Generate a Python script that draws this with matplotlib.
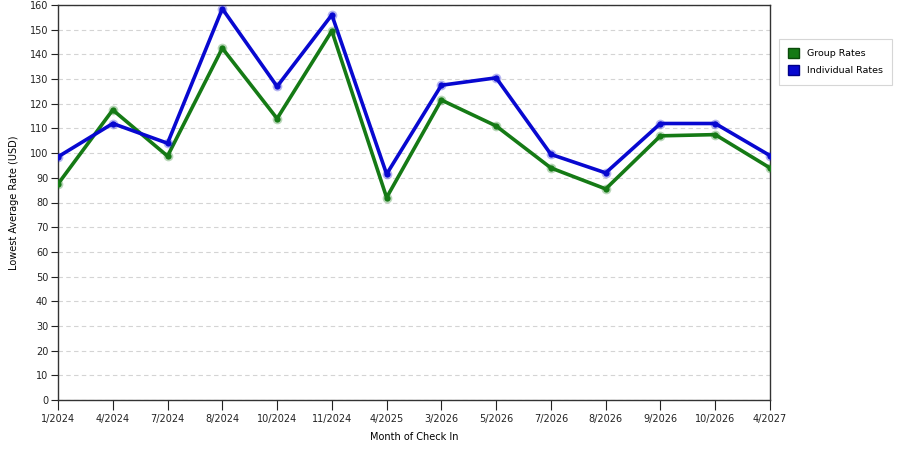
import numpy as np
import matplotlib
matplotlib.use('Agg')
import matplotlib.pyplot as plt
from matplotlib.patches import Patch

months = ['1/2024', '4/2024', '7/2024', '8/2024', '10/2024', '11/2024', '4/2025',
          '3/2026', '5/2026', '7/2026', '8/2026', '9/2026', '10/2026', '4/2027']
group_rates = [87.5, 117.5, 98.8, 142.5, 114, 149.5, 82, 121.5, 111, 94, 85.5, 107, 107.5, 94]
indiv_rates = [98.5, 112, 104, 158.5, 127, 156, 91.5, 127.5, 130.5, 99.5, 92, 112, 112, 99]

green = '#157a15'
blue = '#0808d0'

plt.rcParams['font.family'] = 'DejaVu Sans'
fig = plt.figure(figsize=(9, 4.5), dpi=100)
ax = fig.add_axes([58/900, 50/450, 712/900, 395/450])

x = np.arange(len(months))
for vals, col in ((group_rates, green), (indiv_rates, blue)):
    ax.plot(x, vals, color=col, lw=2.6, zorder=3, solid_capstyle='round')
    ax.plot(x, vals, 'o', ms=7, color=col, alpha=0.3, zorder=4, mec='none')
    ax.plot(x, vals, 'o', ms=4.5, color=col, zorder=5, mec='none')

ax.set_xlim(0, len(months) - 1)
ax.set_ylim(0, 160)
ax.set_yticks(range(0, 161, 10))
ax.set_xticks(x)
ax.set_xticklabels(months)
ax.tick_params(axis='both', labelsize=7, colors='#222222', direction='out')
ax.tick_params(axis='x', length=7, pad=3)
ax.tick_params(axis='y', length=5, pad=2)
ax.yaxis.grid(True, ls=(0, (4, 3)), color='#d4d4d4', lw=0.8)
ax.set_axisbelow(True)
for s in ax.spines.values():
    s.set_color('#333333')
    s.set_linewidth(1)

ax.set_xlabel('Month of Check In', fontsize=7, labelpad=6)
ax.set_ylabel('Lowest Average Rate (USD)', fontsize=7, labelpad=8)

handles = [Patch(facecolor=green, edgecolor='#0a4a0a', label='Group Rates'),
           Patch(facecolor=blue, edgecolor='#000088', label='Individual Rates')]
leg = fig.legend(handles=handles, loc='upper left', bbox_to_anchor=(779/900, 1 - 39/450),
                 fontsize=6.8, frameon=True, fancybox=False, edgecolor='#cccccc',
                 handlelength=1.15, handleheight=1.15, borderpad=1.0, labelspacing=0.75,
                 handletextpad=0.8, borderaxespad=0)
leg.get_frame().set_linewidth(0.8)

fig.savefig('out.png', dpi=100)
